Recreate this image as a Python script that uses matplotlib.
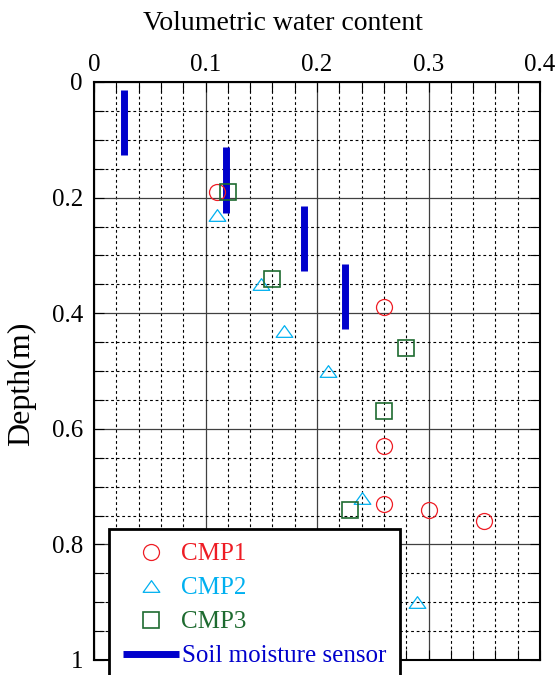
import numpy as np
import matplotlib
matplotlib.use("Agg")
import matplotlib.pyplot as plt
from matplotlib.lines import Line2D
from matplotlib.path import Path
from matplotlib.ticker import MultipleLocator, FixedLocator

plt.rcParams["font.family"] = ["Liberation Serif", "DejaVu Serif"]

# CMP estimates (volumetric water content vs depth)
cmp1_vwc = [0.11, 0.26, 0.26, 0.26, 0.30, 0.35]
cmp1_depth = [0.19, 0.39, 0.63, 0.73, 0.74, 0.76]

cmp2_vwc = [0.11, 0.15, 0.17, 0.21, 0.24, 0.29]
cmp2_depth = [0.23, 0.35, 0.43, 0.50, 0.72, 0.90]

cmp3_vwc = [0.12, 0.16, 0.28, 0.26, 0.23]
cmp3_depth = [0.19, 0.34, 0.46, 0.57, 0.74]

# soil moisture sensors: reading and depth span of each probe
sensor_vwc = [0.027, 0.118, 0.188, 0.225]
sensor_top = [0.013, 0.113, 0.214, 0.315]
sensor_bottom = [0.127, 0.226, 0.327, 0.428]

x_ticks = [0, 0.1, 0.2, 0.3, 0.4]
x_labels = ["0", "0.1", "0.2", "0.3", "0.4"]
y_ticks = [0, 0.2, 0.4, 0.6, 0.8, 1.0]
y_labels = ["0", "0.2", "0.4", "0.6", "0.8", "1"]

red = "#ee1c24"
cyan = "#00b0f0"
green = "#1e6b30"
blue = "#0000cc"

# flattened triangle marker
tri = Path([(-1, -0.7), (1, -0.7), (0, 0.7), (-1, -0.7)],
           [Path.MOVETO, Path.LINETO, Path.LINETO, Path.CLOSEPOLY])

fig = plt.figure(figsize=(5.6, 6.75), dpi=100)
ax = fig.add_axes([94 / 560, 1 - 660 / 675, 446 / 560, 578 / 675])

ax.vlines(sensor_vwc, sensor_top, sensor_bottom, color=blue, lw=5,
          capstyle="butt", zorder=3)
ax.plot(cmp1_vwc, cmp1_depth, ls="none", marker="o", ms=11.5, mfc="none",
        mec=red, mew=0.9, zorder=4)
ax.plot(cmp2_vwc, cmp2_depth, ls="none", marker=tri, ms=12, mfc="none",
        mec=cyan, mew=0.9, zorder=4)
ax.plot(cmp3_vwc, cmp3_depth, ls="none", marker="s", ms=11.5, mfc="none",
        mec=green, mew=1.2, zorder=4)

ax.set_xlim(0, 0.4)
ax.set_ylim(1, 0)
ax.xaxis.set_major_locator(FixedLocator(x_ticks))
ax.set_xticklabels(x_labels)
ax.yaxis.set_major_locator(FixedLocator(y_ticks))
ax.set_yticklabels(y_labels)
ax.xaxis.set_minor_locator(MultipleLocator(0.02))
ax.yaxis.set_minor_locator(MultipleLocator(0.05))
ax.xaxis.tick_top()

ax.grid(which="major", color="#404040", lw=0.9, ls="-", zorder=1)
ax.grid(which="minor", color="black", lw=0.8, ls=(0, (2.5, 2.5)), zorder=1)
ax.set_axisbelow(True)
ax.tick_params(which="both", direction="in", top=True, bottom=True,
               left=True, right=True, length=7, width=0.8, labelsize=18)
ax.tick_params(axis="x", pad=4)
ax.tick_params(axis="y", pad=8)
for sp in ax.spines.values():
    sp.set_linewidth(1.5)

fig.text(283 / 560, 1 - 24 / 675, "Volumetric water content", fontsize=20,
         ha="center", va="center")
fig.text(22 / 560, 1 - 384 / 675, "Depth(m)", fontsize=23, rotation=90,
         ha="center", va="center")

handles = [
    Line2D([], [], ls="none", marker="o", ms=11.5, mfc="none", mec=red, mew=0.9),
    Line2D([], [], ls="none", marker=tri, ms=12, mfc="none", mec=cyan, mew=0.9),
    Line2D([], [], ls="none", marker="s", ms=11.5, mfc="none", mec=green, mew=1.2),
    Line2D([], [], color=blue, lw=5, solid_capstyle="butt"),
]
labels = ["CMP1", "CMP2", "CMP3", "Soil moisture sensor"]
leg = fig.legend(handles, labels, loc="upper left",
                 bbox_to_anchor=(109 / 560, 1 - 529 / 675), fontsize=18,
                 handlelength=2.25, handletextpad=0.1, labelspacing=0.46,
                 borderpad=0.55, borderaxespad=0, fancybox=False,
                 framealpha=1, edgecolor="black")
leg.get_frame().set_linewidth(2)
for txt, c in zip(leg.get_texts(), [red, cyan, green, blue]):
    txt.set_color(c)

fig.savefig("out.png", dpi=100)
